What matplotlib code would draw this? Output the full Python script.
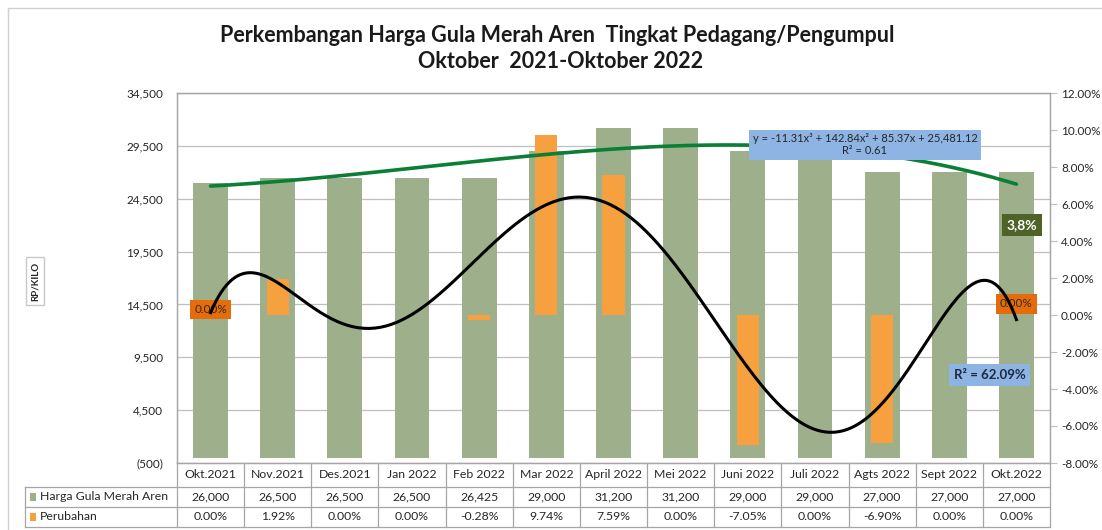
import matplotlib.pyplot as plt
import matplotlib.transforms as mtransforms
from matplotlib.lines import Line2D
from matplotlib.patches import Rectangle
import numpy as np

plt.rcParams['font.family'] = ['Lato', 'DejaVu Sans']

# data
bulan = ["Okt.2021", "Nov.2021", "Des.2021", "Jan 2022", "Feb 2022", "Mar 2022",
         "April 2022", "Mei 2022", "Juni 2022", "Juli 2022", "Agts 2022",
         "Sept 2022", "Okt.2022"]
harga = [26000, 26500, 26500, 26500, 26425, 29000, 31200, 31200, 29000, 29000,
         27000, 27000, 27000]
perubahan = [0.00, 1.92, 0.00, 0.00, -0.28, 9.74, 7.59, 0.00, -7.05, 0.00,
             -6.90, 0.00, 0.00]   # persen
seri = ["Harga Gula Merah Aren", "Perubahan"]

c_hijau = "#9DB08B"
c_oranye = "#F7A03F"
c_grid = "#BFBFBF"
c_teks = "#262626"

W, H = 1102, 530
fig = plt.figure(figsize=(W / 100, H / 100), dpi=100)
ax = fig.add_axes([177 / W, 1 - 463 / H, (1050 - 177) / W, 370 / H])
ax2 = ax.twinx()

x = np.arange(len(bulan))
ax.bar(x, harga, width=0.52, color=c_hijau, zorder=2)
ax.set_xlim(-0.5, len(bulan) - 0.5)
ax.set_ylim(-500, 34500)
ax.set_yticks(np.arange(-500, 34501, 5000))
ax.yaxis.set_major_formatter(
    lambda v, p: f"({abs(v):,.0f})" if v < 0 else f"{v:,.0f}")
ax.set_xticks([])
ax.set_axisbelow(True)
ax.grid(axis="y", color=c_grid, lw=0.9)
ax.tick_params(axis="y", length=0, labelsize=8.5, labelcolor=c_teks, pad=10)

ax2.bar(x, perubahan, width=0.33, color=c_oranye, zorder=2)
ax2.set_ylim(-8, 12)
ax2.set_yticks(np.arange(-8, 12.1, 2))
ax2.yaxis.set_major_formatter(lambda v, p: f"{v:.2f}%")
ax2.tick_params(axis="y", length=5, color=c_grid, labelsize=8.5,
                labelcolor=c_teks, pad=3)

for a in (ax, ax2):
    for s in a.spines.values():
        s.set_color("#A6A6A6")
        s.set_linewidth(0.9)

# trendline polinomial orde 3 (harga) dan orde 6 (perubahan)
xi = x + 1
xs = np.linspace(1, len(bulan), 300)
p3 = np.polyfit(xi, harga, 3)
ax2.plot(xs - 1, np.polyval(p3, xs), color="#0B7F36", lw=2.6,
         transform=ax.transData, zorder=4, solid_capstyle="round")
p6 = np.polyfit(xi, perubahan, 6)
ax2.plot(xs - 1, np.polyval(p6, xs), color="black", lw=2.2, zorder=5)

# label data
ax2.text(0, 0.3, "0.00%", ha="center", va="center", fontsize=8.5, color="#3B2A1A",
         zorder=4, bbox=dict(boxstyle="square,pad=0.35", fc="#E46C0A", ec="none"))
ax2.text(12, 0.6, "0.00%", ha="center", va="center", fontsize=8.5, color="#3B2A1A",
         zorder=4, bbox=dict(boxstyle="square,pad=0.35", fc="#E46C0A", ec="none"))
ax2.text(0.968, 0.643, "3,8%", transform=ax.transAxes, ha="center", va="center",
         fontsize=10, fontweight="bold", color="white", zorder=6,
         bbox=dict(boxstyle="square,pad=0.35", fc="#4F6228", ec="none"))
ax2.text(0.788, 0.86, "y = -11.31x³ + 142.84x² + 85.37x + 25,481.12\nR² = 0.61",
         transform=ax.transAxes, ha="center", va="center", fontsize=8,
         color=c_teks, linespacing=1.15, zorder=6,
         bbox=dict(boxstyle="square,pad=0.3", fc="#8DB4E2", ec="none"))
ax2.text(0.931, 0.238, "R² = 62.09%", transform=ax.transAxes, ha="center",
         va="center", fontsize=9.5, fontweight="bold", color="#1F2A44", zorder=6,
         bbox=dict(boxstyle="square,pad=0.35", fc="#8DB4E2", ec="none"))

# tabel data di bawah grafik
tr = mtransforms.blended_transform_factory(ax.transData, ax.transAxes)
r0, r1, r2, r3 = 0, -24 / 370, -44 / 370, -64 / 370
x_kiri = -0.5 - (177 - 25) / (873 / len(bulan))
x_kanan = len(bulan) - 0.5
garis = dict(color="#A6A6A6", lw=0.9, transform=tr, clip_on=False)
for ry in (r1, r2, r3):
    ax.add_line(Line2D([x_kiri, x_kanan], [ry, ry], **garis))
ax.add_line(Line2D([x_kiri, x_kiri], [r1, r3], **garis))
for k in range(len(bulan) + 1):
    ax.add_line(Line2D([k - 0.5, k - 0.5], [r0, r3], **garis))
for k, b in enumerate(bulan):
    ax.text(k, (r0 + r1) / 2, b, transform=tr, ha="center", va="center",
            fontsize=8.8, color=c_teks)
    ax.text(k, (r1 + r2) / 2, f"{harga[k]:,.0f}", transform=tr, ha="center",
            va="center", fontsize=8.8, color=c_teks)
    ax.text(k, (r2 + r3) / 2, f"{perubahan[k]:.2f}%", transform=tr, ha="center",
            va="center", fontsize=8.8, color=c_teks)
for (ra, rb), nama, warna in zip([(r1, r2), (r2, r3)], seri, [c_hijau, c_oranye]):
    ym = (ra + rb) / 2
    ax.add_patch(Rectangle((x_kiri + 0.08, ym - 0.011), 0.09, 0.022, fc=warna,
                           ec="none", transform=tr, clip_on=False))
    ax.text(x_kiri + 0.22, ym, nama, transform=tr, ha="left", va="center",
            fontsize=8.8, color=c_teks)

# judul dan label sumbu
fig.text(557 / W, 1 - 35 / H, "Perkembangan Harga Gula Merah Aren  Tingkat Pedagang/Pengumpul",
         ha="center", va="center", fontsize=15.5, fontweight="bold", color="#1A1A1A")
fig.text(561 / W, 1 - 62 / H, "Oktober  2021-Oktober 2022", ha="center",
         va="center", fontsize=15.5, fontweight="bold", color="#1A1A1A")
fig.text(35 / W, 1 - 281 / H, "RP/KILO", rotation=90, ha="center", va="center",
         fontsize=7, fontweight="bold", color=c_teks,
         bbox=dict(boxstyle="square,pad=0.5", fc="white", ec="#C8C8C8"))

# bingkai chart
fig.add_artist(Line2D([8 / W, 1], [1 - 8 / H, 1 - 8 / H], color="#D0D0D0", lw=1))
fig.add_artist(Line2D([8 / W, 8 / W], [0, 1 - 8 / H], color="#D0D0D0", lw=1))

fig.savefig("out.png", dpi=100)
